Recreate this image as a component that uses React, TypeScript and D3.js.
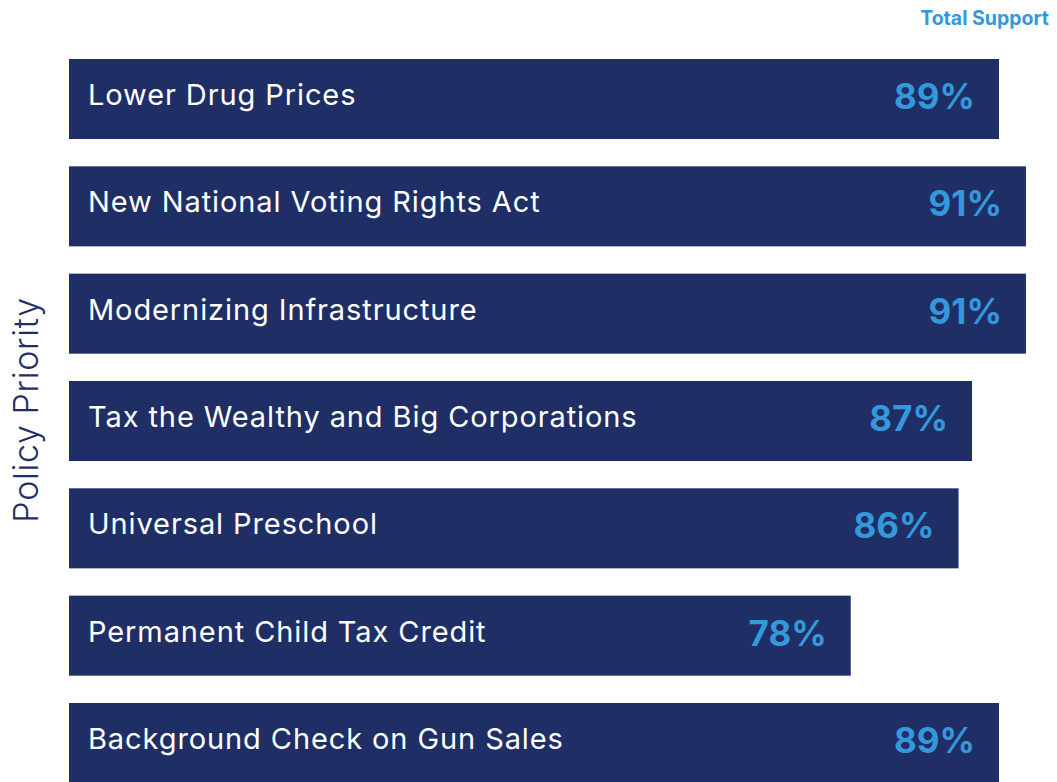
import React from 'react';
import * as d3 from 'd3';

const priorities = [
  'Lower Drug Prices',
  'New National Voting Rights Act',
  'Modernizing Infrastructure',
  'Tax the Wealthy and Big Corporations',
  'Universal Preschool',
  'Permanent Child Tax Credit',
  'Background Check on Gun Sales',
];
const support = [89, 91, 91, 87, 86, 78, 89];

const W = 1057;
const H = 782;
const navy = '#1f2f66';
const blue = '#3498db';
const font = 'Inter, "Open Sans", sans-serif';

const App = () => {
  // step ~107px, bars ~80px tall
  const y = d3.scaleBand<string>()
    .domain(priorities)
    .range([59, 783])
    .paddingInner(0.2544)
    .paddingOuter(0);

  const x = d3.scaleLinear()
    .domain([20, 89])
    .range([69, 999]);

  return (
    <svg width={W} height={H} style={{ position: 'absolute', left: 0, top: 0, background: '#fff' }}>
      <text x={1049} y={25} textAnchor="end" fill={blue}
        style={{ font: `bold 19.5px ${font}` }}>Total Support</text>

      <text transform={`translate(38,410) rotate(-90)`} textAnchor="middle" fill={navy}
        style={{ font: `300 34px ${font}`, letterSpacing: '0.6px' }}>Policy Priority</text>

      {priorities.map((p, i) => {
        const y0 = y(p)!;
        const cy = y0 + y.bandwidth() / 2;
        return (
          <g key={p}>
            <rect x={x.range()[0]} y={y0} width={x(support[i]) - x.range()[0]} height={y.bandwidth()} fill={navy} />
            <text x={88} y={cy + 6} fill="#fff"
              style={{ font: `400 29px ${font}`, letterSpacing: '0.9px' }}>{p}</text>
            <text x={x(support[i]) - 24} y={cy + 10} textAnchor="end" fill={blue}
              style={{ font: `bold 35px ${font}` }}>{support[i]}%</text>
          </g>
        );
      })}
    </svg>
  );
};

export default App;
